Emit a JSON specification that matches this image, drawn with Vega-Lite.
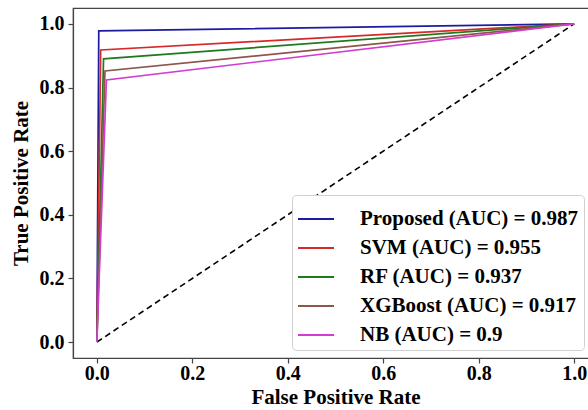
{
  "$schema": "https://vega.github.io/schema/vega-lite/v6.json",
  "autosize": "none",
  "padding": {"left": 73, "top": 8, "right": 0, "bottom": 52},
  "width": 525,
  "height": 350,
  "background": "white",
  "config": {
    "view": {"stroke": "#444", "strokeWidth": 1.2},
    "axis": {
      "grid": false,
      "domainColor": "#444",
      "domainWidth": 1.2,
      "tickColor": "#444",
      "tickWidth": 1.2,
      "tickSize": 5,
      "labelFont": "Liberation Serif",
      "labelFontWeight": "bold",
      "labelFontSize": 20,
      "labelColor": "black",
      "titleFont": "Liberation Serif",
      "titleFontWeight": "bold",
      "titleFontSize": 21,
      "titleColor": "black"
    }
  },
  "layer": [
    {
      "data": {"values": [{"fpr": 0, "tpr": 0}, {"fpr": 1, "tpr": 1}]},
      "mark": {"type": "line", "color": "black", "strokeDash": [6, 4], "strokeWidth": 1.6},
      "encoding": {
        "x": {"field": "fpr", "type": "quantitative"},
        "y": {"field": "tpr", "type": "quantitative"}
      }
    },
    {
      "data": {"values": [
        {"model": "Proposed (AUC) = 0.987", "step": 0, "fpr": 0, "tpr": 0},
        {"model": "Proposed (AUC) = 0.987", "step": 1, "fpr": 0.004, "tpr": 0.978},
        {"model": "Proposed (AUC) = 0.987", "step": 2, "fpr": 1, "tpr": 1},
        {"model": "SVM (AUC) = 0.955", "step": 0, "fpr": 0, "tpr": 0},
        {"model": "SVM (AUC) = 0.955", "step": 1, "fpr": 0.008, "tpr": 0.918},
        {"model": "SVM (AUC) = 0.955", "step": 2, "fpr": 1, "tpr": 1},
        {"model": "RF (AUC) = 0.937", "step": 0, "fpr": 0, "tpr": 0},
        {"model": "RF (AUC) = 0.937", "step": 1, "fpr": 0.014, "tpr": 0.89},
        {"model": "RF (AUC) = 0.937", "step": 2, "fpr": 1, "tpr": 1},
        {"model": "XGBoost (AUC) = 0.917", "step": 0, "fpr": 0, "tpr": 0},
        {"model": "XGBoost (AUC) = 0.917", "step": 1, "fpr": 0.017, "tpr": 0.852},
        {"model": "XGBoost (AUC) = 0.917", "step": 2, "fpr": 1, "tpr": 1},
        {"model": "NB (AUC) = 0.9", "step": 0, "fpr": 0, "tpr": 0},
        {"model": "NB (AUC) = 0.9", "step": 1, "fpr": 0.02, "tpr": 0.824},
        {"model": "NB (AUC) = 0.9", "step": 2, "fpr": 1, "tpr": 1}
      ]},
      "mark": {"type": "line", "strokeWidth": 1.7},
      "encoding": {
        "x": {
          "field": "fpr", "type": "quantitative",
          "scale": {"domain": [-0.05, 1.05], "nice": false, "zero": false},
          "axis": {"values": [0, 0.2, 0.4, 0.6, 0.8, 1.0], "format": ".1f", "title": "False Positive Rate", "labelFont": "Liberation Serif", "labelFontWeight": "bold", "labelPadding": 0, "titlePadding": 3}
        },
        "y": {
          "field": "tpr", "type": "quantitative",
          "scale": {"domain": [-0.05, 1.05], "nice": false, "zero": false},
          "axis": {"values": [0, 0.2, 0.4, 0.6, 0.8, 1.0], "format": ".1f", "title": "True Positive Rate", "labelFont": "Liberation Serif", "labelFontWeight": "bold", "labelPadding": 4, "titlePadding": 8}
        },
        "order": {"field": "step", "type": "quantitative"},
        "color": {
          "field": "model", "type": "nominal",
          "scale": {
            "domain": ["Proposed (AUC) = 0.987", "SVM (AUC) = 0.955", "RF (AUC) = 0.937", "XGBoost (AUC) = 0.917", "NB (AUC) = 0.9"],
            "range": ["#1c1ca0", "#d62a2a", "#1f7a1f", "#8c564b", "#d23cd2"]
          },
          "legend": {
            "title": null,
            "orient": "none",
            "legendX": 219,
            "legendY": 187,
            "symbolType": "stroke",
            "symbolSize": 1296,
            "symbolStrokeWidth": 1.8,
            "labelFont": "Liberation Serif",
            "labelFontWeight": "bold",
            "labelFontSize": 21,
            "labelColor": "black",
            "labelOffset": 25,
            "rowPadding": -0.5,
            "padding": 5,
            "fillColor": "white",
            "strokeColor": "#d0d0d0",
            "cornerRadius": 4,
            "labelLimit": 400
          }
        }
      }
    }
  ]
}
